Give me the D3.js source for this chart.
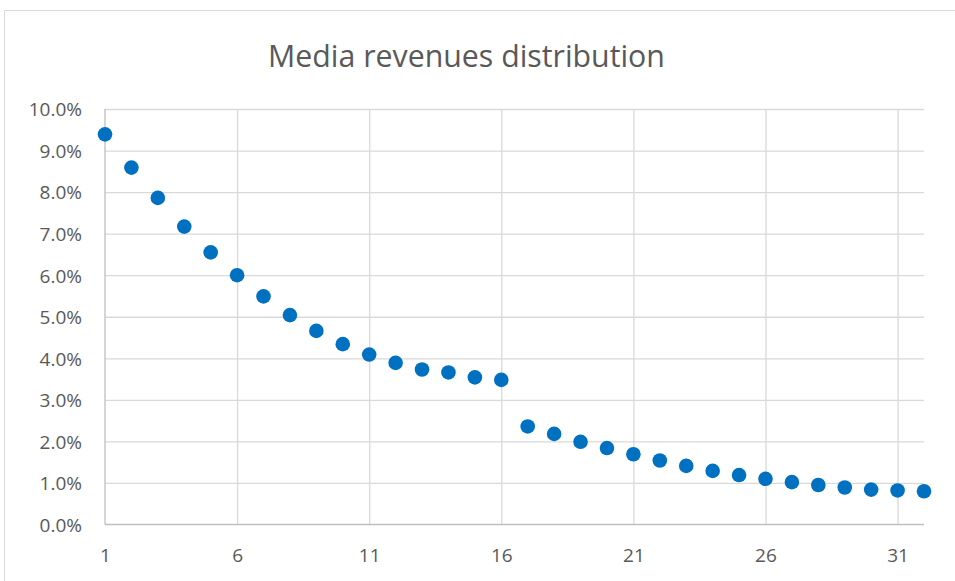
<!DOCTYPE html>
<html>
<head>
<meta charset="utf-8">
<script src="https://cdn.jsdelivr.net/npm/d3@7"></script>
<style>
  html, body { margin: 0; padding: 0; background: #ffffff; }
  svg { display: block; font-family: "Open Sans", "Noto Sans", sans-serif; }
</style>
</head>
<body>
<svg id="chart" width="955" height="581"></svg>
<script>
// Share of media revenues by rank
const ranks = d3.range(1, 33);
const shares = [
  9.39, 8.59, 7.86, 7.17, 6.55, 6.00, 5.49, 5.04, 4.66, 4.34,
  4.09, 3.89, 3.73, 3.66, 3.54, 3.48, 2.36, 2.18, 1.99, 1.84,
  1.69, 1.54, 1.41, 1.29, 1.19, 1.10, 1.02, 0.95, 0.89, 0.84,
  0.82, 0.80
];
const xTicks = [1, 6, 11, 16, 21, 26, 31];
const yTicks = [0, 1, 2, 3, 4, 5, 6, 7, 8, 9, 10];
const title = "Media revenues distribution";

const svg = d3.select("#chart");
const plot = { left: 105, right: 924, top: 109, bottom: 524.5 };

const x = d3.scaleLinear().domain([1, 32]).range([plot.left, plot.right]);
const y = d3.scaleLinear().domain([0, 10]).range([plot.bottom, plot.top]);

const textColor = "#595959";
const gridColor = "#d9d9d9";
const axisColor = "#bfbfbf";

// chart area outline
svg.append("rect")
  .attr("x", 4.5).attr("y", 10.5)
  .attr("width", 1000).attr("height", 700)
  .attr("fill", "none").attr("stroke", gridColor).attr("stroke-width", 1);

// title, sized to its drawn width
const titleText = svg.append("text")
  .attr("x", 466.5).attr("y", 66.5)
  .attr("text-anchor", "middle")
  .attr("fill", textColor)
  .style("font-size", "30px")
  .text(title);
const tw = titleText.node().getComputedTextLength();
titleText.style("font-size", (30 * 397 / tw) + "px");

// horizontal gridlines
svg.append("g")
  .attr("transform", `translate(${plot.left},0)`)
  .call(d3.axisLeft(y).tickValues(yTicks.filter(d => d > 0))
    .tickSize(-(plot.right - plot.left)).tickFormat(""))
  .call(g => g.select(".domain").remove())
  .call(g => g.selectAll(".tick line").attr("stroke", gridColor).attr("stroke-width", 1.3));

// vertical gridlines
svg.append("g")
  .attr("transform", `translate(0,${plot.bottom})`)
  .call(d3.axisBottom(x).tickValues(xTicks.filter(d => d > 1))
    .tickSize(-(plot.bottom - plot.top)).tickFormat(""))
  .call(g => g.select(".domain").remove())
  .call(g => g.selectAll(".tick line").attr("stroke", gridColor).attr("stroke-width", 1.3));

// axis lines
svg.append("line")
  .attr("x1", plot.left).attr("x2", plot.left)
  .attr("y1", plot.top).attr("y2", plot.bottom)
  .attr("stroke", axisColor).attr("stroke-width", 1.3);
svg.append("line")
  .attr("x1", plot.left).attr("x2", plot.right)
  .attr("y1", plot.bottom).attr("y2", plot.bottom)
  .attr("stroke", axisColor).attr("stroke-width", 1.3);

// y tick labels
const yAxis = svg.append("g")
  .attr("transform", `translate(${plot.left},0)`)
  .call(d3.axisLeft(y).tickValues(yTicks).tickSize(0).tickPadding(23)
    .tickFormat(d => d.toFixed(1) + "%"));
yAxis.select(".domain").remove();
yAxis.selectAll("text")
  .attr("fill", textColor)
  .attr("dy", "0.36em")
  .style("font-size", "19px")
  .style("font-family", "\"Open Sans\", sans-serif");

// x tick labels
const xAxis = svg.append("g")
  .attr("transform", `translate(0,${plot.bottom})`)
  .call(d3.axisBottom(x).tickValues(xTicks).tickSize(0).tickPadding(28)
    .tickFormat(d3.format("d")));
xAxis.select(".domain").remove();
xAxis.selectAll("text")
  .attr("fill", textColor)
  .attr("dy", "0.5em")
  .style("font-size", "19px")
  .style("font-family", "\"Open Sans\", sans-serif");

// markers
svg.append("g")
  .selectAll("circle")
  .data(ranks.map((r, i) => ({ r, v: shares[i] })))
  .join("circle")
  .attr("cx", d => x(d.r))
  .attr("cy", d => y(d.v))
  .attr("r", 7.3)
  .attr("fill", "#0070c0");
</script>
</body>
</html>
